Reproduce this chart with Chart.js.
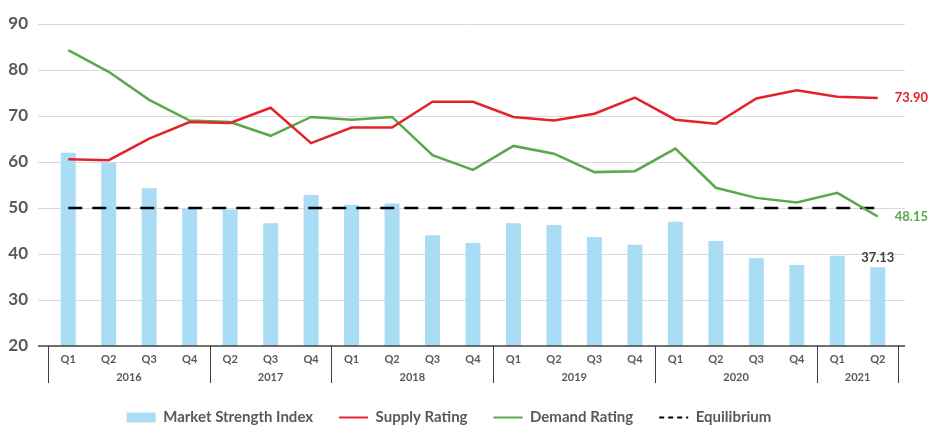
<!DOCTYPE html>
<html>
<head>
<meta charset="utf-8">
<script src="https://cdn.jsdelivr.net/npm/chart.js@4/dist/chart.umd.min.js"></script>
<style>
html, body { margin: 0; padding: 0; background: #fff; }
#wrap { width: 929px; height: 426px; position: relative; }
</style>
</head>
<body>
<div id="wrap"><canvas id="myChart"></canvas></div>
<script>
var quarters = ['Q1','Q2','Q3','Q4','Q2','Q3','Q4','Q1','Q2','Q3','Q4','Q1','Q2','Q3','Q4','Q1','Q2','Q3','Q4','Q1','Q2'];
var years = ['2016','2017','2018','2019','2020','2021'];
var yearSizes = [4, 3, 4, 4, 4, 2];
var marketStrength = [62.0, 59.8, 54.3, 49.8, 49.7, 46.7, 52.8, 50.7, 51.0, 44.1, 42.4, 46.7, 46.3, 43.7, 42.0, 47.0, 42.8, 39.1, 37.6, 39.6, 37.13];
var supply = [60.6, 60.4, 65.1, 68.7, 68.5, 71.8, 64.1, 67.5, 67.5, 73.1, 73.1, 69.8, 69.0, 70.5, 74.0, 69.2, 68.3, 73.8, 75.6, 74.2, 73.90];
var demand = [84.3, 79.6, 73.5, 69.0, 68.7, 65.7, 69.8, 69.2, 69.8, 61.5, 58.3, 63.5, 61.8, 57.8, 58.0, 62.9, 54.4, 52.2, 51.2, 53.3, 48.15];
var equilibrium = [50, 50, 50, 50, 50, 50, 50, 50, 50, 50, 50, 50, 50, 50, 50, 50, 50, 50, 50, 50, 50];
var yTicks = [20, 30, 40, 50, 60, 70, 80, 90];

var FONT = 'Lato, "DejaVu Sans", sans-serif';
var GREY = '#595959';

// gridlines, axis line, year groups and end labels
var extras = {
  id: 'extras',
  beforeUpdate: function(chart) {
    // fixed legend height so the legend sits close to the bottom edge
    var lg = chart.legend;
    if (lg && !lg._fixedFit) {
      var fit = lg.fit;
      lg.fit = function() { fit.call(this); this.height = 42; };
      lg._fixedFit = true;
    }
  },
  beforeDatasetsDraw: function(chart) {
    var ctx = chart.ctx, a = chart.chartArea, y = chart.scales.y;
    ctx.save();
    ctx.strokeStyle = '#d9d9d9';
    ctx.lineWidth = 1;
    yTicks.forEach(function(t) {
      if (t === yTicks[0]) return;
      var py = Math.round(y.getPixelForValue(t)) + 0.5;
      ctx.beginPath();
      ctx.moveTo(a.left - 10, py);
      ctx.lineTo(a.right + 7, py);
      ctx.stroke();
    });
    ctx.restore();
  },
  afterDatasetsDraw: function(chart) {
    var ctx = chart.ctx, a = chart.chartArea, x = chart.scales.x;
    var half = (x.getPixelForValue(1) - x.getPixelForValue(0)) / 2;
    ctx.save();
    // x axis line
    ctx.strokeStyle = '#404040';
    ctx.lineWidth = 1.5;
    ctx.beginPath();
    ctx.moveTo(a.left - 10, a.bottom);
    ctx.lineTo(a.right + 7, a.bottom);
    ctx.stroke();
    // year separators + labels
    ctx.lineWidth = 1;
    ctx.fillStyle = GREY;
    ctx.font = 'bold 11px ' + FONT;
    ctx.textAlign = 'center';
    ctx.textBaseline = 'middle';
    var start = 0;
    years.forEach(function(yr, i) {
      var left = x.getPixelForValue(start) - half;
      var right = x.getPixelForValue(start + yearSizes[i] - 1) + half;
      ctx.beginPath();
      ctx.moveTo(Math.round(left) + 0.5, a.bottom);
      ctx.lineTo(Math.round(left) + 0.5, a.bottom + 37);
      if (i === years.length - 1) {
        ctx.moveTo(Math.round(right) + 0.5, a.bottom);
        ctx.lineTo(Math.round(right) + 0.5, a.bottom + 37);
      }
      ctx.stroke();
      ctx.fillText(yr, (left + right) / 2, a.bottom + 31);
      start += yearSizes[i];
    });
    // end value labels
    var last = quarters.length - 1;
    ctx.font = 'bold 13px ' + FONT;
    ctx.textAlign = 'left';
    var ps = chart.getDatasetMeta(1).data[last];
    ctx.fillStyle = '#e3222b';
    ctx.fillText(supply[last].toFixed(2), ps.x + 17, ps.y);
    var pd = chart.getDatasetMeta(2).data[last];
    ctx.fillStyle = '#59a84a';
    ctx.fillText(demand[last].toFixed(2), pd.x + 17, pd.y);
    var pb = chart.getDatasetMeta(0).data[last];
    ctx.fillStyle = '#404040';
    ctx.textAlign = 'center';
    ctx.textBaseline = 'bottom';
    ctx.fillText(marketStrength[last].toFixed(2), pb.x, pb.y - 3);
    ctx.restore();
  }
};

document.addEventListener('DOMContentLoaded', function() {
  var ctx = document.getElementById('myChart').getContext('2d');
  new Chart(ctx, {
    type: 'bar',
    data: {
      labels: quarters,
      datasets: [{
        type: 'bar',
        label: 'Market Strength Index',
        data: marketStrength,
        backgroundColor: '#a9ddf5',
        borderWidth: 0,
        barPercentage: 0.37,
        categoryPercentage: 1,
        pointStyle: 'rect',
        order: 4
      }, {
        type: 'line',
        label: 'Supply Rating',
        data: supply,
        borderColor: '#e3222b',
        backgroundColor: '#e3222b',
        borderWidth: 2.5,
        pointRadius: 0,
        tension: 0,
        pointStyle: 'line',
        order: 1
      }, {
        type: 'line',
        label: 'Demand Rating',
        data: demand,
        borderColor: '#59a84a',
        backgroundColor: '#59a84a',
        borderWidth: 2.5,
        pointRadius: 0,
        tension: 0,
        pointStyle: 'line',
        order: 2
      }, {
        type: 'line',
        label: 'Equilibrium',
        data: equilibrium,
        borderColor: '#000000',
        backgroundColor: '#000000',
        borderWidth: 2.5,
        borderDash: [14, 10],
        pointRadius: 0,
        tension: 0,
        pointStyle: 'line',
        order: 3
      }]
    },
    options: {
      responsive: true,
      maintainAspectRatio: false,
      animation: false,
      layout: { padding: { top: 24, right: 31, left: 0, bottom: 0 } },
      scales: {
        x: {
          grid: { display: false, drawTicks: false },
          border: { display: false },
          ticks: { color: GREY, font: { family: FONT, size: 11, weight: 'bold' }, padding: 7, maxRotation: 0, autoSkip: false },
          afterFit: function(s) { s.height = 38; }
        },
        y: {
          min: 20,
          max: 90,
          grid: { display: false, drawTicks: false },
          border: { display: false },
          ticks: { stepSize: 10, color: GREY, font: { family: FONT, size: 17, weight: 'bold' }, padding: 20 },
          afterFit: function(s) { s.width = 48; s.paddingTop = 0; s.paddingBottom = 0; }
        }
      },
      plugins: {
        tooltip: { enabled: false },
        legend: {
          position: 'bottom',
          labels: {
            usePointStyle: true,
            pointStyleWidth: 29,
            boxHeight: 10,
            padding: 26,
            color: GREY,
            font: { family: FONT, size: 15, weight: 'bold' },
            sort: function(a, b) { return a.datasetIndex - b.datasetIndex; },
            generateLabels: function(chart) {
              var items = Chart.defaults.plugins.legend.labels.generateLabels(chart);
              items.forEach(function(it) {
                if (it.datasetIndex > 0) it.lineWidth = 2;
                if (it.datasetIndex === 3) it.lineDash = [5, 4];
              });
              return items;
            }
          }
        }
      }
    },
    plugins: [extras]
  });
});
</script>
</body>
</html>
